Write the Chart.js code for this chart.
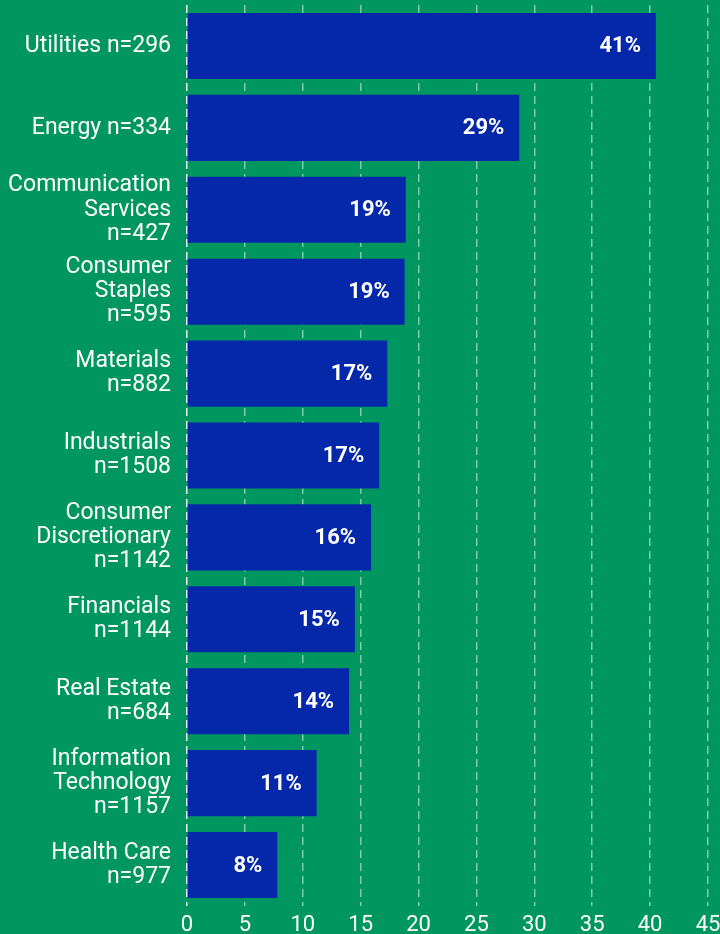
<!DOCTYPE html>
<html>
<head>
<meta charset="utf-8">
<script src="https://cdn.jsdelivr.net/npm/chart.js@4/dist/chart.umd.min.js"></script>
<style>
  html, body { margin: 0; padding: 0; background: #00965F; }
  #wrap { width: 720px; height: 934px; }
</style>
</head>
<body>
<div id="wrap"><canvas id="chart" width="720" height="934"></canvas></div>
<script>
// sector labels (multi-line where the original wraps)
var categories = [
  ["Utilities n=296"],
  ["Energy n=334"],
  ["Communication", "Services", "n=427"],
  ["Consumer", "Staples", "n=595"],
  ["Materials", "n=882"],
  ["Industrials", "n=1508"],
  ["Consumer", "Discretionary", "n=1142"],
  ["Financials", "n=1144"],
  ["Real Estate", "n=684"],
  ["Information", "Technology", "n=1157"],
  ["Health Care", "n=977"]
];
var values = [40.5, 28.7, 18.9, 18.8, 17.3, 16.6, 15.9, 14.5, 14.0, 11.2, 7.8];
var valueLabels = ["41%", "29%", "19%", "19%", "17%", "17%", "16%", "15%", "14%", "11%", "8%"];
var xMax = 45;
var xStep = 5;

var GREEN = "#00965F";
var BLUE = "#0527A9";

// draws the percentage inside the end of each bar
var barLabels = {
  id: "barLabels",
  afterDatasetsDraw: function (chart) {
    var ctx = chart.ctx;
    var meta = chart.getDatasetMeta(0);
    ctx.save();
    ctx.fillStyle = "#ffffff";
    ctx.font = "bold 22px Roboto";
    ctx.textAlign = "right";
    ctx.textBaseline = "middle";
    meta.data.forEach(function (bar, i) {
      ctx.fillText(valueLabels[i], bar.x - 15, bar.y + 1);
    });
    ctx.restore();
  }
};

new Chart(document.getElementById("chart"), {
  type: "bar",
  data: {
    labels: categories,
    datasets: [{
      data: values,
      backgroundColor: BLUE,
      borderWidth: 0,
      barPercentage: 0.807,
      categoryPercentage: 1.0
    }]
  },
  options: {
    indexAxis: "y",
    responsive: false,
    animation: false,
    layout: { padding: { top: 5, right: 12, bottom: -10, left: 0 } },
    plugins: { legend: { display: false }, tooltip: { enabled: false } },
    scales: {
      x: {
        min: 0,
        max: xMax,
        afterFit: function (s) { s.paddingRight = 0; },
        ticks: {
          stepSize: xStep,
          color: "#ffffff",
          font: { family: "Roboto", size: 22, lineHeight: 0.727 },
          padding: 11
        },
        grid: {
          color: function (c) { return c.index === 0 ? "rgba(255,255,255,0.9)" : "rgba(255,255,255,0.5)"; },
          lineWidth: 1.5,
          drawTicks: false
        },
        border: { display: false, dash: [8, 5] }
      },
      y: {
        afterFit: function (s) {
          s.width = 187;
          s.paddingTop = 0;
          s.paddingBottom = 0;
        },
        ticks: {
          color: "#ffffff",
          font: { family: "Roboto", size: 23, lineHeight: 1.045 },
          padding: 16
        },
        grid: { display: false, drawTicks: false },
        border: { display: false }
      }
    }
  },
  plugins: [barLabels]
});
</script>
</body>
</html>
